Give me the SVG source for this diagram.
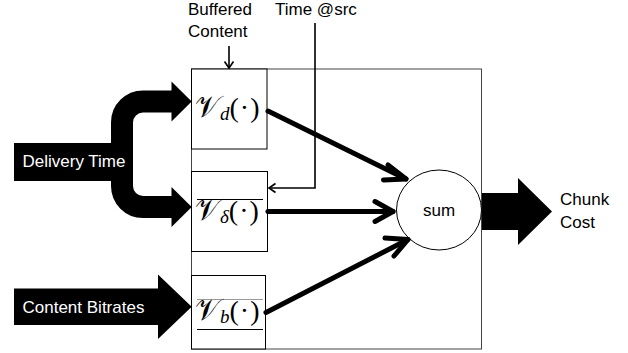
<svg xmlns="http://www.w3.org/2000/svg" width="628" height="353" viewBox="0 0 628 353">
<style>
.lbl{font-family:"Liberation Sans",Arial,sans-serif;font-size:17px;fill:#000}
.wlbl{font-family:"Liberation Sans",Arial,sans-serif;font-size:17px;fill:#fff}
.box{fill:#fff;stroke:#000;stroke-width:1}
.math{font-family:"Liberation Serif",serif;font-size:28px;fill:#000}
.v{font-family:"DejaVu Sans","Noto Sans",serif;font-size:30px;font-weight:normal}
.sub{font-family:"Liberation Serif",serif;font-style:italic;font-size:19px}
.thick{stroke:#000;stroke-width:5;fill:none;stroke-linecap:round;stroke-linejoin:round}
.thin{stroke:#000;stroke-width:1.6;fill:none}
.rule{stroke:#000;stroke-width:1}
</style>
<rect width="628" height="353" fill="#fff"/>
<g id="container">
  <rect x="191.5" y="69" width="290" height="280" fill="#fff" stroke="#444" stroke-width="1"/>
</g>
<g id="node-vd">
  <rect class="box" x="191.5" y="69" width="75.5" height="80"/>
  <text class="math" x="195" y="117"><tspan class="v">𝒱</tspan><tspan class="sub" dy="3">d</tspan><tspan dy="-3" letter-spacing="1">(·)</tspan></text>
</g>
<g id="node-vdelta">
  <rect class="box" x="191.5" y="171.5" width="76" height="80"/>
  <line class="rule" x1="197" y1="199.5" x2="263" y2="199.5"/>
  <text class="math" x="195" y="220"><tspan class="v">𝒱</tspan><tspan class="sub" dy="3">δ</tspan><tspan dy="-3" letter-spacing="1">(·)</tspan></text>
</g>
<g id="node-vb">
  <rect class="box" x="191.5" y="275.5" width="74" height="73.5"/>
  <line x1="197" y1="299.5" x2="263" y2="299.5" stroke="#999" stroke-width="1"/>
  <line class="rule" x1="197" y1="329.5" x2="263" y2="329.5"/>
  <text class="math" x="195" y="320"><tspan class="v">𝒱</tspan><tspan class="sub" dy="3">b</tspan><tspan dy="-3" letter-spacing="1">(·)</tspan></text>
</g>
<g id="node-sum">
  <ellipse cx="439" cy="210" rx="42.5" ry="40" fill="#fff" stroke="#000" stroke-width="1"/>
  <text class="lbl" x="439" y="216" text-anchor="middle">sum</text>
</g>
<g id="node-delivery">
  <rect x="14" y="143" width="110" height="38" fill="#000"/>
  <path d="M172,101.5 H143 A21,21 0 0 0 122,122.5 V186 A21,21 0 0 0 143,207 H172" fill="none" stroke="#000" stroke-width="22"/>
  <polygon points="171.5,81.5 191.7,101.5 171.5,121.5" fill="#000"/>
  <polygon points="171.5,187 191.7,207 171.5,227" fill="#000"/>
  <text class="wlbl" x="22.5" y="167">Delivery Time</text>
</g>
<g id="node-bitrates">
  <polygon points="14,288.5 158,288.5 158,274.5 191.7,306.7 158,339 158,325 14,325" fill="#000"/>
  <text class="wlbl" x="22.5" y="313">Content Bitrates</text>
</g>
<g id="node-chunk">
  <polygon points="482,193 518,193 518,178 552,211.5 518,245 518,230 482,230" fill="#000"/>
  <text class="lbl" x="560" y="205">Chunk</text>
  <text class="lbl" x="560" y="228">Cost</text>
</g>
<g id="node-buffered">
  <text class="lbl" x="188" y="15">Buffered</text>
  <text class="lbl" x="188" y="37">Content</text>
</g>
<g id="node-time">
  <text class="lbl" x="275" y="15">Time @src</text>
</g>
<g id="connectors">
  <line class="thick" x1="268" y1="111" x2="406" y2="179"/>
  <polyline class="thick" points="388,165 406,179 383.5,180"/>
  <line class="thick" x1="268" y1="211.5" x2="393" y2="211.5"/>
  <polyline class="thick" points="375,201.5 393,211.5 375,221.5"/>
  <line class="thick" x1="266" y1="312.5" x2="408" y2="239.5"/>
  <polyline class="thick" points="385,238 408,239.5 394,256"/>
  <line class="thin" x1="229" y1="46" x2="229" y2="68"/>
  <polyline class="thin" points="224.5,61.5 229,68 233.5,61.5"/>
  <polyline class="thin" points="315,23 315,188 269,188"/>
  <polyline class="thin" points="275.5,183.5 269,188 275.5,192.5"/>
</g>
</svg>
